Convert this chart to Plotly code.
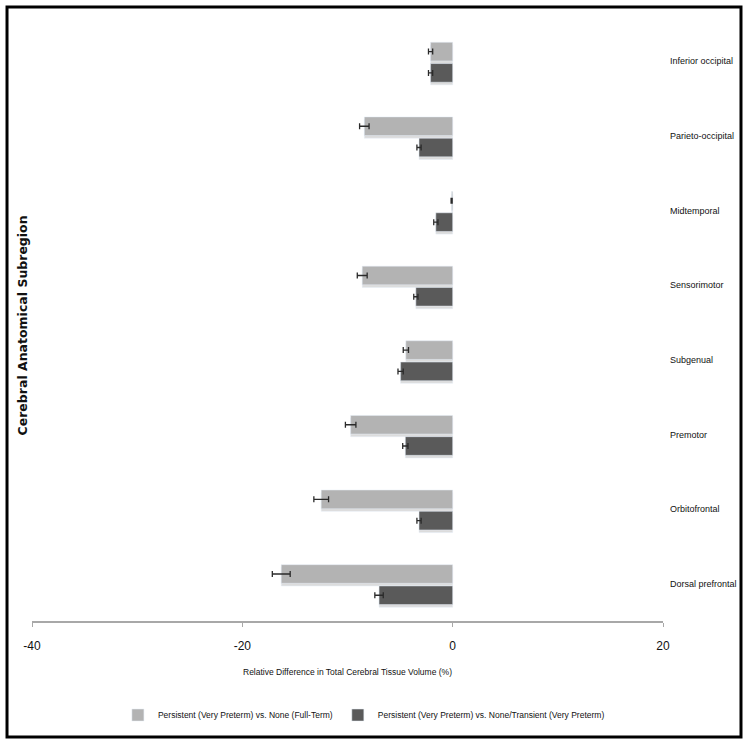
import plotly.graph_objects as go

categories = ["Inferior occipital", "Parieto-occipital", "Midtemporal", "Sensorimotor",
              "Subgenual", "Premotor", "Orbitofrontal", "Dorsal prefrontal"]
full_term = [-2.1, -8.4, -0.1, -8.6, -4.45, -9.7, -12.5, -16.3]
full_term_err = [0.2, 0.45, 0.05, 0.47, 0.25, 0.5, 0.7, 0.85]
transient = [-2.1, -3.2, -1.6, -3.5, -4.95, -4.5, -3.2, -7.0]
transient_err = [0.2, 0.2, 0.2, 0.2, 0.25, 0.25, 0.2, 0.4]
name_full = "Persistent (Very Preterm) vs. None (Full-Term)"
name_trans = "Persistent (Very Preterm) vs. None/Transient (Very Preterm)"
x_ticks = [-40, -20, 0, 20]
x_ticktext = ["-40", "-20", "0", "20"]

FONT = "Liberation Sans, Arial, sans-serif"
BW = 0.25
OFF_L = -0.255
OFF_D = 0.03
SH = 0.035

fig = go.Figure()
# shadows
fig.add_trace(go.Bar(y=categories, x=full_term, orientation="h", width=BW, offset=OFF_L + SH,
                     marker=dict(color="#dcdcdc"), showlegend=False, hoverinfo="skip"))
fig.add_trace(go.Bar(y=categories, x=transient, orientation="h", width=BW, offset=OFF_D + SH,
                     marker=dict(color="#dcdcdc"), showlegend=False, hoverinfo="skip"))
# main bars
fig.add_trace(go.Bar(y=categories, x=full_term, orientation="h", width=BW, offset=OFF_L,
                     name=name_full, marker=dict(color="#b3b3b3"),
                     error_x=dict(type="data", array=full_term_err, color="#2a2a2a",
                                  thickness=1.3, width=3)))
fig.add_trace(go.Bar(y=categories, x=transient, orientation="h", width=BW, offset=OFF_D,
                     name=name_trans, marker=dict(color="#5a5a5a"),
                     error_x=dict(type="data", array=transient_err, color="#2a2a2a",
                                  thickness=1.3, width=3)))

fig.update_layout(
    width=750, height=746,
    margin=dict(l=32, r=87, t=24, b=125, autoexpand=False),
    paper_bgcolor="white", plot_bgcolor="white",
    barmode="overlay",
    font=dict(family=FONT, color="#111111"),
    xaxis=dict(range=[-40, 20], tickvals=x_ticks, ticktext=x_ticktext,
               showgrid=False, zeroline=False, automargin=False,
               showline=True, linecolor="#a8a8a8", linewidth=1.5,
               ticks="outside", ticklen=4, tickcolor="#a8a8a8",
               tickfont=dict(size=12, family=FONT, color="#111111"),
               ticklabelstandoff=9,
               title=dict(text="Relative Difference in Total Cerebral Tissue Volume (%)",
                          font=dict(size=8.5, family=FONT, color="#111111"), standoff=17)),
    yaxis=dict(type="category", categoryorder="array", categoryarray=categories,
               autorange="reversed", side="right", showgrid=False, zeroline=False,
               automargin=False,
               showline=False, ticks="", ticklabelstandoff=6,
               tickfont=dict(size=9, family=FONT, color="#111111")),
    yaxis2=dict(overlaying="y", anchor="free", position=2/3, side="left",
                automargin=False,
                range=[7.5, -0.5], tickvals=[i - 0.5 for i in range(len(categories) + 1)],
                ticks="outside", ticklen=3, tickcolor="#a8a8a8", showticklabels=False,
                showline=True, linecolor="#a8a8a8", linewidth=1.5,
                showgrid=False, zeroline=False),
    legend=dict(orientation="h", xref="paper", x=0.526, xanchor="center",
                y=-0.1575, yanchor="middle", font=dict(size=8.5, family=FONT, color="#111111"),
                traceorder="normal", itemwidth=30),
    shapes=[dict(type="rect", xref="paper", yref="paper",
                 x0=-0.0396, x1=1.1236, y0=-0.1943, y1=1.0285,
                 line=dict(color="black", width=3), fillcolor="rgba(0,0,0,0)")],
    annotations=[dict(text="<b>Cerebral Anatomical Subregion</b>", xref="paper", yref="paper",
                      x=-0.0143, y=0.495, xanchor="center", yanchor="middle",
                      textangle=-90, showarrow=False,
                      font=dict(size=12.5, family="DejaVu Sans, Arial, sans-serif", color="#111111"))],
)

fig.write_html("out.html", config={"displayModeBar": False},
               post_script="document.body.style.margin='0';")
